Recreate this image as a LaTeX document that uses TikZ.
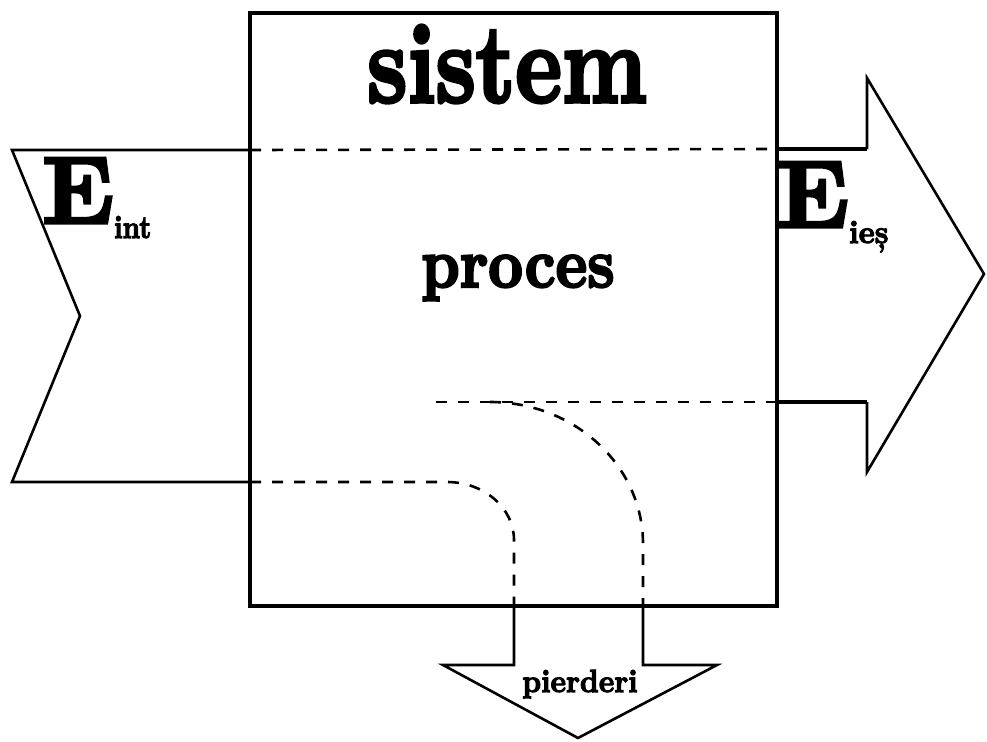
\documentclass[tikz,border=0pt]{standalone}
\usepackage{graphicx}
\usepackage{fontspec}
\newfontfamily\heavy{lmroman10-bold.otf}[FakeBold=3.5]
\begin{document}
\begin{tikzpicture}[x=1pt,y=-1pt,
  boxline/.style={line width=4pt},
  arrowline/.style={line width=2.6pt, line join=miter},
  stubline/.style={line width=4pt},
  dashline/.style={line width=2.6pt, dash pattern=on 11pt off 11pt},
  txt/.style={inner sep=0pt, font=\heavy}]
\useasboundingbox (0,0) rectangle (987,741);
\fill[white] (0,0) rectangle (987,741);
% system box
\coordinate (bTL) at (250,13);
\coordinate (bBR) at (777,606);
\draw[boxline] (bTL) rectangle (bBR);
% input arrow
\coordinate (inT) at (250,150);
\coordinate (inB) at (250,482);
\coordinate (inTL) at (12,150);
\coordinate (inN) at (80,316);
\coordinate (inBL) at (12,482);
\draw[arrowline] (inT) -- (inTL) -- (inN) -- (inBL) -- (inB);
% output arrow
\coordinate (outT) at (777,149);
\coordinate (outT2) at (867,149);
\coordinate (outT3) at (867,78);
\coordinate (outTip) at (984,274);
\coordinate (outB3) at (867,472);
\coordinate (outB2) at (867,402);
\coordinate (outB) at (777,402);
\draw[arrowline] (outT2) -- (outT3) -- (outTip) -- (outB3) -- (outB2);
\draw[stubline] (outT) -- (outT2);
\draw[stubline] (outB) -- (outB2);
% losses arrow
\coordinate (lA) at (514,606);
\coordinate (lB) at (514,665);
\coordinate (lC) at (443,665);
\coordinate (lTip) at (578,738);
\coordinate (lD) at (717,665);
\coordinate (lE) at (643,665);
\coordinate (lF) at (643,606);
\draw[arrowline] (lA) -- (lB) -- (lC) -- (lTip) -- (lD) -- (lE) -- (lF);
% dashed flow lines
\draw[dashline] (inT) -- (outT);
\draw[dashline] (inB) -- (447,482) arc[start angle=90, end angle=0, x radius=67, y radius=-58] -- (lA);
\draw[dashline] (outB) -- (428,402);
\draw[dashline] (490,402) arc[start angle=90, end angle=0, x radius=153, y radius=-142] -- (lF);
% texts
\node[txt, anchor=base] (sistem) at (507,102) {\fontsize{112}{112}\selectfont\scalebox{0.79}[1]{sistem}};
\node[txt, anchor=base] (proces) at (518,287) {\fontsize{70}{70}\selectfont\scalebox{0.86}[1]{proces}};
\node[txt, anchor=base west] (eint) at (42,223) {\fontsize{95}{95}\selectfont E\raisebox{-15pt}{\fontsize{32}{32}\selectfont\scalebox{0.85}[1]{int}}};
\node[txt, anchor=base west] (eies) at (777,227) {\fontsize{95}{95}\selectfont E\raisebox{-16pt}{\fontsize{32}{32}\selectfont\scalebox{0.95}[1]{ieș}}};
\node[txt, anchor=base] (pierderi) at (580,692) {\fontsize{32}{32}\selectfont\scalebox{0.92}[1]{pierderi}};
\end{tikzpicture}
\end{document}
